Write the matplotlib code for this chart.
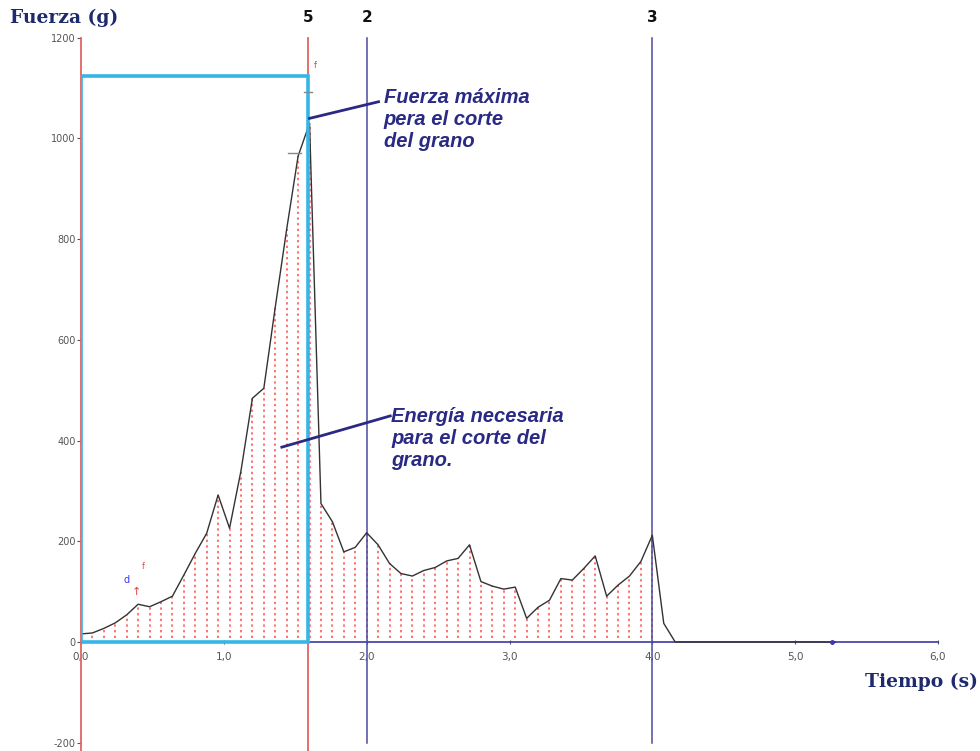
import numpy as np
import matplotlib
matplotlib.use("Agg")
import matplotlib.pyplot as plt

plt.rcParams["axes.unicode_minus"] = False

# sampling step of the texturometer (s)
dt = 0.08

# force readings (g), one every dt seconds starting at 0
fuerza = [16, 18, 27, 38, 54, 75, 70, 80, 91, 133,
          176, 216, 292, 226, 340, 484, 504, 665, 820, 965,
          1030, 275, 239, 179, 188, 217, 193, 156, 136, 131,
          142, 148, 161, 166, 193, 120, 111, 105, 109, 47,
          69, 83, 126, 123, 146, 171, 91, 113, 131, 160,
          212, 37, 0, 0, 0, 0, 0, 0, 0, 0,
          0, 0, 0, 0, 0, 0, 0]
tiempo = np.arange(len(fuerza)) * dt

# cursors
cursor_rojo = [0.0, 1.59]
cursor_azul = [2.0, 4.0]
cursor_etiquetas = {"5": 1.59, "2": 2.0, "3": 4.0}
fuerza_caja = 1124

xticks = [0, 1, 2, 3, 4, 5, 6]
xlabels = ["0,0", "1,0", "2,0", "3,0", "4,0", "5,0", "6,0"]
yticks = [-200, 0, 200, 400, 600, 800, 1000, 1200]

navy = "#2a2a85"
rojo = "#e06464"

fig = plt.figure(figsize=(9.8, 7.51), dpi=100)
ax = fig.add_axes([81 / 980, (751 - 742.7) / 751, 857 / 980, (742.7 - 37.8) / 751])
ax.set_xlim(0, 6)
ax.set_ylim(-200, 1200)

for s in ["top", "right", "left"]:
    ax.spines[s].set_visible(False)
ax.spines["bottom"].set_position(("data", 0))
ax.spines["bottom"].set_color("#3a3aa8")
ax.spines["bottom"].set_linewidth(1.2)

ax.set_xticks(xticks)
ax.set_xticklabels(xlabels)
ax.set_yticks(yticks)
ax.tick_params(axis="x", length=3, width=0.8, pad=6, labelsize=7.5,
               colors="#555555", direction="inout")
ax.tick_params(axis="y", length=3, width=0.8, pad=1, labelsize=7,
               colors="#555555")

# dotted red verticals under the curve
for t, f in zip(tiempo[1:51], fuerza[1:51]):
    ax.plot([t, t], [8, f], color="#ff4a4a", lw=1.1,
            linestyle=(0, (1.5, 2.2)), zorder=2)

# cursor lines
for t in cursor_rojo:
    ax.plot([t, t], [1200, -217], color=rojo, lw=1.3, clip_on=False, zorder=3)
for t in cursor_azul:
    ax.plot([t, t], [1200, -200], color="#4a4aa0", lw=1.1, clip_on=False, zorder=3)

# force curve
ax.plot(tiempo, fuerza, color="#333333", lw=1.0, zorder=4)
ax.plot([5.26], [0], marker="o", ms=2.5, color="#3a3aa8", zorder=5)

# cyan rectangle
ax.plot([0, 0, cursor_rojo[1], cursor_rojo[1], 0],
        [0, fuerza_caja, fuerza_caja, 0, 0],
        color="#35b6e6", lw=2.6, zorder=5, solid_joinstyle="miter")

for lab, t in cursor_etiquetas.items():
    ax.text(t, 1240, lab, ha="center", va="center", fontsize=11,
            fontweight="bold", color="#111111", clip_on=False)

# small cursor markers
ax.plot([1.45, 1.54], [971, 971], color="#888888", lw=1, zorder=4)
ax.plot([1.56, 1.62], [1092, 1092], color="#888888", lw=1, zorder=6)
ax.text(1.63, 1145, "f", color="#e04040", fontsize=6, ha="left", va="center")
ax.text(0.32, 123, "d", color="#3a3aff", fontsize=7, ha="center", va="center")
ax.text(0.39, 100, "\u2191", color="#e04040", fontsize=8, ha="center", va="center")
ax.text(0.435, 150, "f", color="#e04040", fontsize=5.5, ha="center", va="center")

# annotations
ax.plot([1.6, 2.083], [1040, 1073], color=navy, lw=2, zorder=6)
ax.text(2.12, 1100, "Fuerza máxima\npera el corte\ndel grano",
        fontsize=14.5, fontstyle="italic", fontweight="bold", color=navy,
        family="Liberation Sans", ha="left", va="top", linespacing=1.2)
ax.plot([1.406, 2.165], [387, 449], color=navy, lw=2, zorder=6)
ax.text(2.17, 467, "Energía necesaria\npara el corte del\ngrano.",
        fontsize=14.5, fontstyle="italic", fontweight="bold", color=navy,
        family="Liberation Sans", ha="left", va="top", linespacing=1.2)

fig.text(10 / 980, 1 - 18 / 751, "Fuerza (g)", fontsize=13.5, fontweight="bold",
         family="DejaVu Serif", color="#1f2a6e", ha="left", va="center")
fig.text(865 / 980, 1 - 682 / 751, "Tiempo (s)", fontsize=13.5, fontweight="bold",
         family="DejaVu Serif", color="#1f2a6e", ha="left", va="center")

fig.savefig("out.png", dpi=100)
